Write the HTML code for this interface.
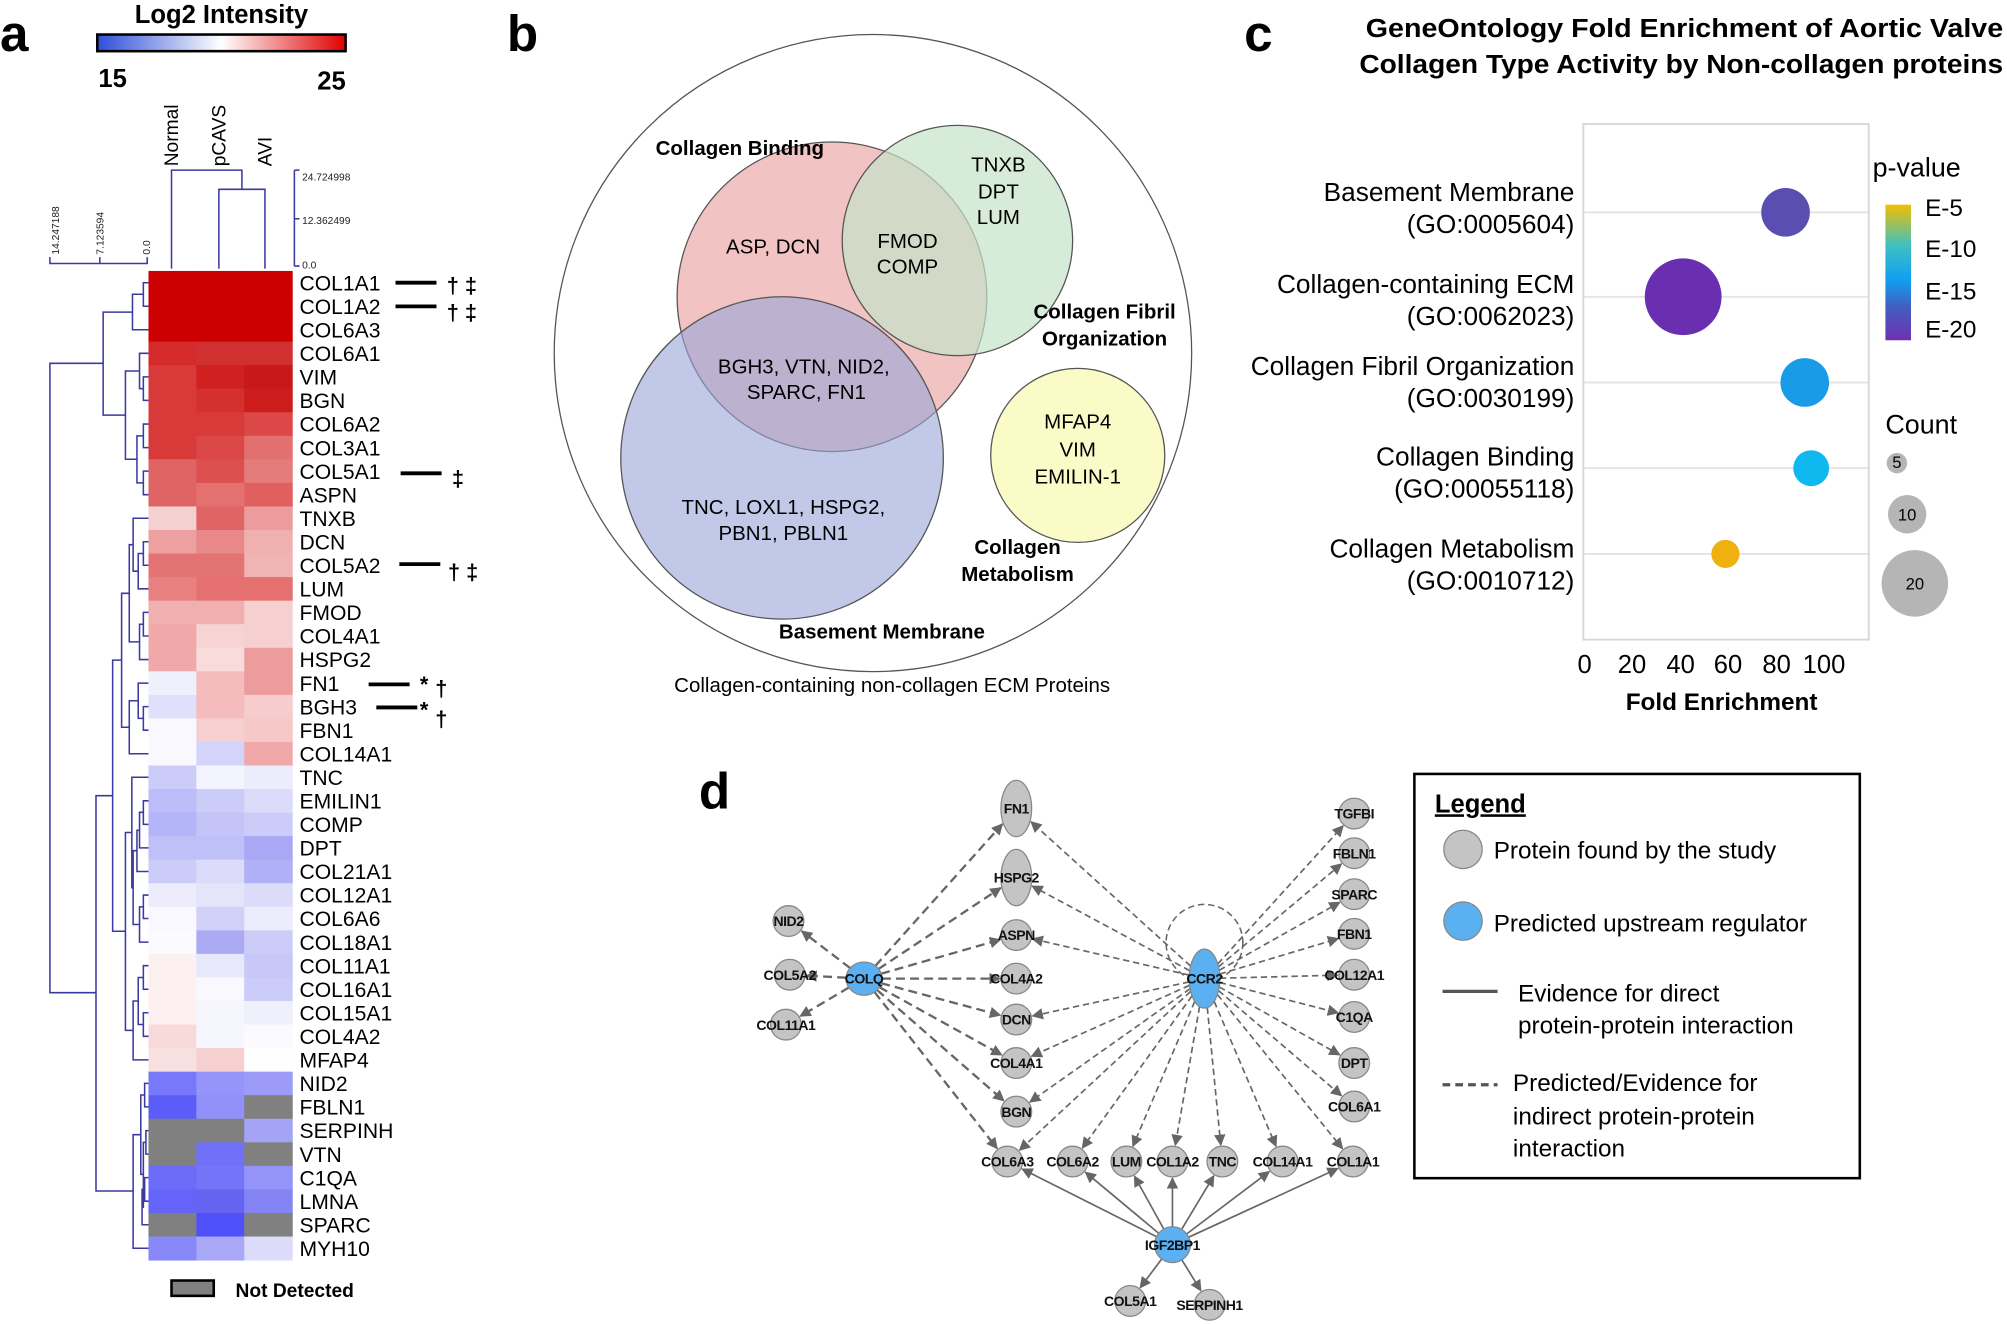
<!DOCTYPE html>
<html><head><meta charset="utf-8"><style>
html,body{margin:0;padding:0;background:#fff}
svg{display:block;font-family:"Liberation Sans",Arial,sans-serif}
</style></head><body>
<svg id="s" width="2007" height="1324" viewBox="0 0 1568 1035" preserveAspectRatio="none" xmlns="http://www.w3.org/2000/svg">
<defs>
<linearGradient id="hm" x1="0" x2="1"><stop offset="0" stop-color="#2f4fd8"/><stop offset="0.5" stop-color="#fff"/><stop offset="1" stop-color="#e00000"/></linearGradient>
<linearGradient id="pv" x1="0" y1="0" x2="0" y2="1"><stop offset="0" stop-color="#f0c000"/><stop offset="0.3" stop-color="#40c0c0"/><stop offset="0.55" stop-color="#10a0f0"/><stop offset="0.75" stop-color="#4060c0"/><stop offset="1" stop-color="#7030b0"/></linearGradient>
<marker id="ar" viewBox="0 0 10 10" refX="9" refY="5" markerWidth="9" markerHeight="9" markerUnits="userSpaceOnUse" orient="auto"><path d="M0,0L10,5L0,10z" fill="#666"/></marker>
</defs>
<rect width="1568" height="1035" fill="#fff"/>

<!-- Panel a -->
<text x="0" y="40" font-size="40" font-weight="bold">a</text>
<text x="173" y="18" font-size="20" font-weight="bold" text-anchor="middle">Log2 Intensity</text>
<rect x="76" y="27" width="194" height="13" fill="url(#hm)" stroke="#000" stroke-width="2"/>
<text x="88" y="68" font-size="20" font-weight="bold" text-anchor="middle">15</text>
<text x="259" y="70" font-size="20" font-weight="bold" text-anchor="middle">25</text>
<g font-size="15" text-anchor="start">
<text transform="translate(139,130) rotate(-90)">Normal</text>
<text transform="translate(176,130) rotate(-90)">pCAVS</text>
<text transform="translate(212,130) rotate(-90)">AVI</text>
</g>
<g id="heat"></g>
<g fill="none" stroke="#3a3aa0" stroke-width="1.2">
<path d="M134 210V133H189V148M171 210V148H207V210"/>
<path d="M230 133V208M230 133h4M230 171h4M230 208h4"/>
<path d="M39 201V206H115V201M78 206V201"/>
<path d="M116 221H112V239.4H116M112 230H103.5V257.8H116"/>
<path d="M116 294.6H112V313H116M116 276.2H109V303.8H112"/>
<path d="M116 331.5H112V349.9H116M116 368.3H112V386.7H116M112 340.7H107V377.5H112"/>
<path d="M109 290H98V359H107M103.5 244H80.6V324.5H98"/>
<path d="M116 423.5H112V441.9H116M112 432.7H108V460.3H116M116 405.1H104V446.5H108"/>
<path d="M116 478.7H112V497.2H116M112 488H109V515.6H116M104 425.8H101V501.8H109"/>
<path d="M116 552.4H112V570.8H116M116 534H108V561.6H112M108 547.8H101V589.2H116"/>
<path d="M101 463.8H95V568.5H101"/>
<path d="M116 626H112V644.4H116M112 635H109V662.8H116M109 649H107V681.3H116"/>
<path d="M116 699.7H112V718H116M112 708.9H109V736.5H116M107 665H104V722.7H109M116 607.6H103V694H104"/>
<path d="M116 754.9H112V773.3H116M116 791.7H112V810.1H116M112 764.1H108V800.9H112M108 782.5H104V828.5H116"/>
<path d="M103 650.8H98V805.5H104"/>
<path d="M95 516H88V728H98"/>
<path d="M116 846.9H113V865.3H116M116 883.8H114V902.2H116M116 920.6H113V939H116M113 929.8H111V957.4H116M114 893H112V943.6H111M113 856H110V918H112M110 887H104V975.8H116"/>
<path d="M88 622H75V931H104"/>
<path d="M80.6 284H39V776H75"/>
</g>
<g font-size="8" fill="#222">
<text x="236" y="141">24.724998</text><text x="236" y="175">12.362499</text><text x="236" y="210">0.0</text>
<text transform="translate(46,199) rotate(-90)">14.247188</text>
<text transform="translate(81,199) rotate(-90)">7.123594</text>
<text transform="translate(117,199) rotate(-90)">0.0</text>
</g>
<g font-size="16.5" fill="#000">
<text x="234" y="227">COL1A1</text><text x="234" y="245.4">COL1A2</text><text x="234" y="263.8">COL6A3</text>
<text x="234" y="282.2">COL6A1</text><text x="234" y="300.6">VIM</text><text x="234" y="319">BGN</text>
<text x="234" y="337.5">COL6A2</text><text x="234" y="355.9">COL3A1</text><text x="234" y="374.3">COL5A1</text>
<text x="234" y="392.7">ASPN</text><text x="234" y="411.1">TNXB</text><text x="234" y="429.5">DCN</text>
<text x="234" y="447.9">COL5A2</text><text x="234" y="466.3">LUM</text><text x="234" y="484.7">FMOD</text>
<text x="234" y="503.2">COL4A1</text><text x="234" y="521.6">HSPG2</text><text x="234" y="540">FN1</text>
<text x="234" y="558.4">BGH3</text><text x="234" y="576.8">FBN1</text><text x="234" y="595.2">COL14A1</text>
<text x="234" y="613.6">TNC</text><text x="234" y="632">EMILIN1</text><text x="234" y="650.4">COMP</text>
<text x="234" y="668.8">DPT</text><text x="234" y="687.3">COL21A1</text><text x="234" y="705.7">COL12A1</text>
<text x="234" y="724">COL6A6</text><text x="234" y="742.5">COL18A1</text><text x="234" y="760.9">COL11A1</text>
<text x="234" y="779.3">COL16A1</text><text x="234" y="797.7">COL15A1</text><text x="234" y="816.1">COL4A2</text>
<text x="234" y="834.5">MFAP4</text><text x="234" y="852.9">NID2</text><text x="234" y="871.3">FBLN1</text>
<text x="234" y="889.8">SERPINH</text><text x="234" y="908.2">VTN</text><text x="234" y="926.6">C1QA</text>
<text x="234" y="945">LMNA</text><text x="234" y="963.4">SPARC</text><text x="234" y="981.8">MYH10</text>
</g>
<g stroke="#000" stroke-width="3">
<path d="M309 221H341M309 239.5H341M313 370H345M312 441H344M288 535H320M294 553H326"/>
</g>
<g font-size="17" font-weight="bold">
<text x="349" y="229">† ‡</text><text x="349" y="250">† ‡</text><text x="353" y="380">‡</text>
<text x="350" y="453">† ‡</text><text x="328" y="541">*</text><text x="340" y="544">†</text>
<text x="328" y="561">*</text><text x="340" y="568">†</text>
</g>
<rect x="134" y="1001" width="33" height="12" fill="#808080" stroke="#000" stroke-width="2"/>
<text x="184" y="1014" font-size="15" font-weight="bold">Not Detected</text>

<!-- Panel b -->
<text x="396" y="40" font-size="40" font-weight="bold">b</text>
<circle cx="682" cy="276" r="249" fill="none" stroke="#555" stroke-width="1"/>
<circle cx="650" cy="232" r="121" fill="#f0b8b8" fill-opacity="0.85" stroke="#555"/>
<circle cx="748" cy="188" r="90" fill="#c5e4c9" fill-opacity="0.7" stroke="#555"/>
<circle cx="611" cy="358" r="126" fill="#9aa5d8" fill-opacity="0.6" stroke="#555"/>
<circle cx="842" cy="356" r="68" fill="#fbfbc8" stroke="#555"/>
<g font-size="16" font-weight="bold" text-anchor="middle">
<text x="578" y="121">Collagen Binding</text>
<text x="863" y="249">Collagen Fibril</text><text x="863" y="270">Organization</text>
<text x="795" y="433">Collagen</text><text x="795" y="454">Metabolism</text>
<text x="689" y="499">Basement Membrane</text>
</g>
<g font-size="16" text-anchor="middle">
<text x="780" y="134">TNXB</text><text x="780" y="155">DPT</text><text x="780" y="175">LUM</text>
<text x="604" y="198">ASP, DCN</text>
<text x="709" y="194">FMOD</text><text x="709" y="214">COMP</text>
<text x="628" y="292">BGH3, VTN, NID2,</text><text x="630" y="312">SPARC, FN1</text>
<text x="612" y="402">TNC, LOXL1, HSPG2,</text><text x="612" y="422">PBN1, PBLN1</text>
<text x="842" y="335">MFAP4</text><text x="842" y="357">VIM</text><text x="842" y="378">EMILIN-1</text>
<text x="697" y="541">Collagen-containing non-collagen ECM Proteins</text>
</g>

<!-- Panel c -->
<text x="972" y="40" font-size="40" font-weight="bold">c</text>
<g font-size="20" font-weight="bold">
<text x="1067" y="29" textLength="498" lengthAdjust="spacingAndGlyphs">GeneOntology  Fold  Enrichment of Aortic Valve</text>
<text x="1062" y="57" textLength="503" lengthAdjust="spacingAndGlyphs">Collagen  Type  Activity  by  Non-collagen  proteins</text>
</g>
<g stroke="#e4e4e4" stroke-width="1.5">
<path d="M1237 166H1460M1237 232H1460M1237 299H1460M1237 366H1460M1237 433H1460"/>
</g>
<rect x="1237" y="97" width="223" height="403" fill="none" stroke="#d8d8d8" stroke-width="1.5"/>
<circle cx="1395" cy="166" r="19" fill="#5a4fb0"/>
<circle cx="1315" cy="232" r="30" fill="#6a2fb0"/>
<circle cx="1410" cy="299" r="19" fill="#1a9be8"/>
<circle cx="1415" cy="366" r="14" fill="#10b8f0"/>
<circle cx="1348" cy="433" r="11" fill="#f0b010"/>
<g font-size="20.5" text-anchor="end">
<text x="1230" y="157">Basement Membrane</text><text x="1230" y="182">(GO:0005604)</text>
<text x="1230" y="229">Collagen-containing ECM</text><text x="1230" y="254">(GO:0062023)</text>
<text x="1230" y="293">Collagen Fibril Organization</text><text x="1230" y="318">(GO:0030199)</text>
<text x="1230" y="364">Collagen Binding</text><text x="1230" y="389">(GO:00055118)</text>
<text x="1230" y="436">Collagen Metabolism</text><text x="1230" y="461">(GO:0010712)</text>
</g>
<g font-size="20" text-anchor="middle">
<text x="1238" y="526">0</text><text x="1275" y="526">20</text><text x="1313" y="526">40</text>
<text x="1350" y="526">60</text><text x="1388" y="526">80</text><text x="1425" y="526">100</text>
</g>
<text x="1345" y="555" font-size="19" font-weight="bold" text-anchor="middle">Fold Enrichment</text>
<text x="1463" y="138" font-size="21">p-value</text>
<rect x="1473" y="160" width="20" height="106" fill="url(#pv)"/>
<g font-size="19"><text x="1504" y="169">E-5</text><text x="1504" y="201">E-10</text><text x="1504" y="234">E-15</text><text x="1504" y="264">E-20</text></g>
<text x="1473" y="339" font-size="21">Count</text>
<circle cx="1482" cy="362" r="8" fill="#b5b5b5"/>
<circle cx="1490" cy="402" r="15" fill="#b5b5b5"/>
<circle cx="1496" cy="456" r="26" fill="#b5b5b5"/>
<g font-size="13" text-anchor="middle"><text x="1482" y="366">5</text><text x="1490" y="407">10</text><text x="1496" y="461">20</text></g>

<!-- Panel d -->
<text x="546" y="632" font-size="40" font-weight="bold">d</text>
<circle cx="941" cy="737" r="30" fill="none" stroke="#666" stroke-dasharray="5,3" stroke-width="1.2"/>
<g id="edges"></g>
<g id="nodes"></g>
<g font-size="11" font-weight="bold" text-anchor="middle" fill="#111" letter-spacing="-0.4">
<text x="675" y="769">COLQ</text><text x="941" y="769">CCR2</text><text x="916" y="977">IGF2BP1</text>
<text x="794" y="636">FN1</text><text x="794" y="690">HSPG2</text><text x="794" y="735">ASPN</text>
<text x="794" y="769">COL4A2</text><text x="794" y="801">DCN</text><text x="794" y="835">COL4A1</text><text x="794" y="873">BGN</text>
<text x="787" y="912">COL6A3</text><text x="838" y="912">COL6A2</text><text x="880" y="912">LUM</text>
<text x="916" y="912">COL1A2</text><text x="955" y="912">TNC</text><text x="1002" y="912">COL14A1</text><text x="1057" y="912">COL1A1</text>
<text x="1058" y="640">TGFBI</text><text x="1058" y="671">FBLN1</text><text x="1058" y="703">SPARC</text>
<text x="1058" y="734">FBN1</text><text x="1058" y="766">COL12A1</text><text x="1058" y="799">C1QA</text>
<text x="1058" y="835">DPT</text><text x="1058" y="869">COL6A1</text>
<text x="616" y="724">NID2</text><text x="617" y="766">COL5A2</text><text x="614" y="805">COL11A1</text>
<text x="883" y="1021">COL5A1</text><text x="945" y="1024">SERPINH1</text>
</g>
<rect x="1105" y="605" width="348" height="316" fill="none" stroke="#000" stroke-width="2"/>
<text x="1121" y="635" font-size="20" font-weight="bold" text-decoration="underline">Legend</text>
<circle cx="1143" cy="664" r="15" fill="#c4c4c4" stroke="#888"/>
<circle cx="1143" cy="720" r="15" fill="#5ab0f0" stroke="#888"/>
<g font-size="19">
<text x="1167" y="671">Protein found by the study</text>
<text x="1167" y="728">Predicted upstream regulator</text>
<text x="1186" y="783">Evidence for direct</text><text x="1186" y="808">protein-protein interaction</text>
<text x="1182" y="853">Predicted/Evidence for</text><text x="1182" y="879">indirect protein-protein</text><text x="1182" y="904">interaction</text>
</g>
<path d="M1127 775H1170" stroke="#555" stroke-width="2.5"/>
<path d="M1127 848H1170" stroke="#555" stroke-width="2.5" stroke-dasharray="6,4"/>
</svg>
<script>
(function(){
var NS="http://www.w3.org/2000/svg";
function el(t,a,p){var e=document.createElementNS(NS,t);for(var k in a)e.setAttribute(k,a[k]);p.appendChild(e);return e;}
var rows=[
["c00","c00","c00"],["c00","c00","c00"],["c00","c00","c00"],
["d42a2a","d03030","d03030"],["d83a3a","d02020","c81818"],["d83a3a","d43030","cc1c1c"],
["d83a3a","d83a3a","dc4848"],["d83a3a","dc4848","e27070"],["e06464","dc5050","e47c7c"],
["e06464","e47070","e06060"],["f4d0d0","e06464","ec9c9c"],["eca0a0","e88888","f0b0b0"],
["e47474","e47474","f0b4b4"],["e88080","e47070","e47070"],["f0b0b0","f0b0b0","f6d0d0"],
["f0a8a8","f6d4d4","f6d0d0"],["f0a8a8","f8dcdc","ec9c9c"],["f0f0fc","f4bcbc","ec9c9c"],
["e0e0fa","f4bcbc","f6cccc"],["f8f8fe","f6d0d0","f6c8c8"],["f8f8fe","d4d4fa","f0a8a8"],
["ccccf8","f4f4fe","ececfc"],["bcbcf8","ccccf8","dcdcfa"],["b4b4f8","c4c4f8","ccccf8"],
["c0c0f8","c0c0f8","a8a8f4"],["ccccf8","dcdcfa","b0b0f6"],["ececfc","e4e4fa","dcdcfa"],
["f8f8fe","d0d0f8","ececfc"],["fafaff","ababf4","ccccf8"],["fcf0f0","e8e8fc","c8c8f8"],
["fcf0f0","f8f8fe","ccccf8"],["fcf0f0","f6f6fe","f0f0fc"],["f8dada","f6f6fe","fafaff"],
["f8e0e0","f6d0d0","fefefe"],["7878fa","9494fa","9c9cf8"],["5c5cf8","9090f8","808080"],
["808080","808080","a4a4f6"],["808080","7070f8","808080"],["6c6cf8","7474f8","9494f8"],
["6464f8","6464f0","8484f4"],["808080","5050f8","808080"],["8888f8","a8a8f6","dcdcfa"]];
var h=document.getElementById("heat");
for(var i=0;i<rows.length;i++)for(var j=0;j<3;j++)
el("rect",{x:116+j*37.4,y:211.8+i*18.41,width:37.9,height:18.8,fill:"#"+rows[i][j]},h);
var N={COLQ:[675,765,14,13,1],CCR2:[941,765,12,23,1],IGF2BP1:[916,973,14,14,1],
FN1:[794,632,12,22],HSPG2:[794,686,12,22],ASPN:[794,731,12,12],COL4A2:[794,765,12,12],DCN:[794,797,12,12],COL4A1:[794,831,12,12],BGN:[794,869,12,12],
COL6A3:[787,908,12,12],COL6A2:[838,908,12,12],LUM:[880,908,12,12],COL1A2:[916,908,12,12],TNC:[955,908,12,12],COL14A1:[1002,908,12,12],COL1A1:[1057,908,12,12],
TGFBI:[1058,636,12,12],FBLN1:[1058,667,12,12],SPARC:[1058,699,12,12],FBN1:[1058,730,12,12],COL12A1:[1058,762,12,12],C1QA:[1058,795,12,12],DPT:[1058,831,12,12],COL6A1:[1058,865,12,12],
NID2:[616,720,12,12],COL5A2:[617,762,12,12],COL11A1:[614,801,12,12],COL5A1:[883,1017,12,12],SERPINH1:[945,1020,12,12]};
var E=[];
["FN1","HSPG2","ASPN","COL4A2","DCN","COL4A1","BGN","COL6A3","NID2","COL5A2","COL11A1"].forEach(function(t){E.push(["COLQ",t,1]);});
["FN1","HSPG2","ASPN","DCN","COL4A1","BGN","COL6A3","COL6A2","LUM","COL1A2","TNC","COL14A1","COL1A1","TGFBI","FBLN1","SPARC","FBN1","COL12A1","C1QA","DPT","COL6A1"].forEach(function(t){E.push(["CCR2",t,1]);});
["COL6A3","COL6A2","LUM","COL1A2","TNC","COL14A1","COL1A1","COL5A1","SERPINH1"].forEach(function(t){E.push(["IGF2BP1",t,0]);});
var g=document.getElementById("edges");
function rad(n,dx,dy){var a=Math.atan2(dy,dx);var rx=n[2],ry=n[3];return rx*ry/Math.sqrt(Math.pow(ry*Math.cos(a),2)+Math.pow(rx*Math.sin(a),2));}
E.forEach(function(e){var a=N[e[0]],b=N[e[1]];var dx=b[0]-a[0],dy=b[1]-a[1],L=Math.sqrt(dx*dx+dy*dy);
var ux=dx/L,uy=dy/L;var r1=rad(a,dx,dy),r2=rad(b,dx,dy)+1;
var at={x1:a[0]+ux*r1,y1:a[1]+uy*r1,x2:b[0]-ux*r2,y2:b[1]-uy*r2,stroke:"#666","stroke-width":e[0]=="COLQ"?1.8:1.3,"marker-end":"url(#ar)"};
if(e[2])at["stroke-dasharray"]=e[0]=="COLQ"?"7,4":"5,3";el("line",at,g);});
var gn=document.getElementById("nodes");
for(var k in N){var n=N[k];el("ellipse",{cx:n[0],cy:n[1],rx:n[2],ry:n[3],fill:n[4]?"#5ab0f0":"#c4c4c4",stroke:"#888","stroke-width":1},gn);}
})();
</script>
</body></html>
